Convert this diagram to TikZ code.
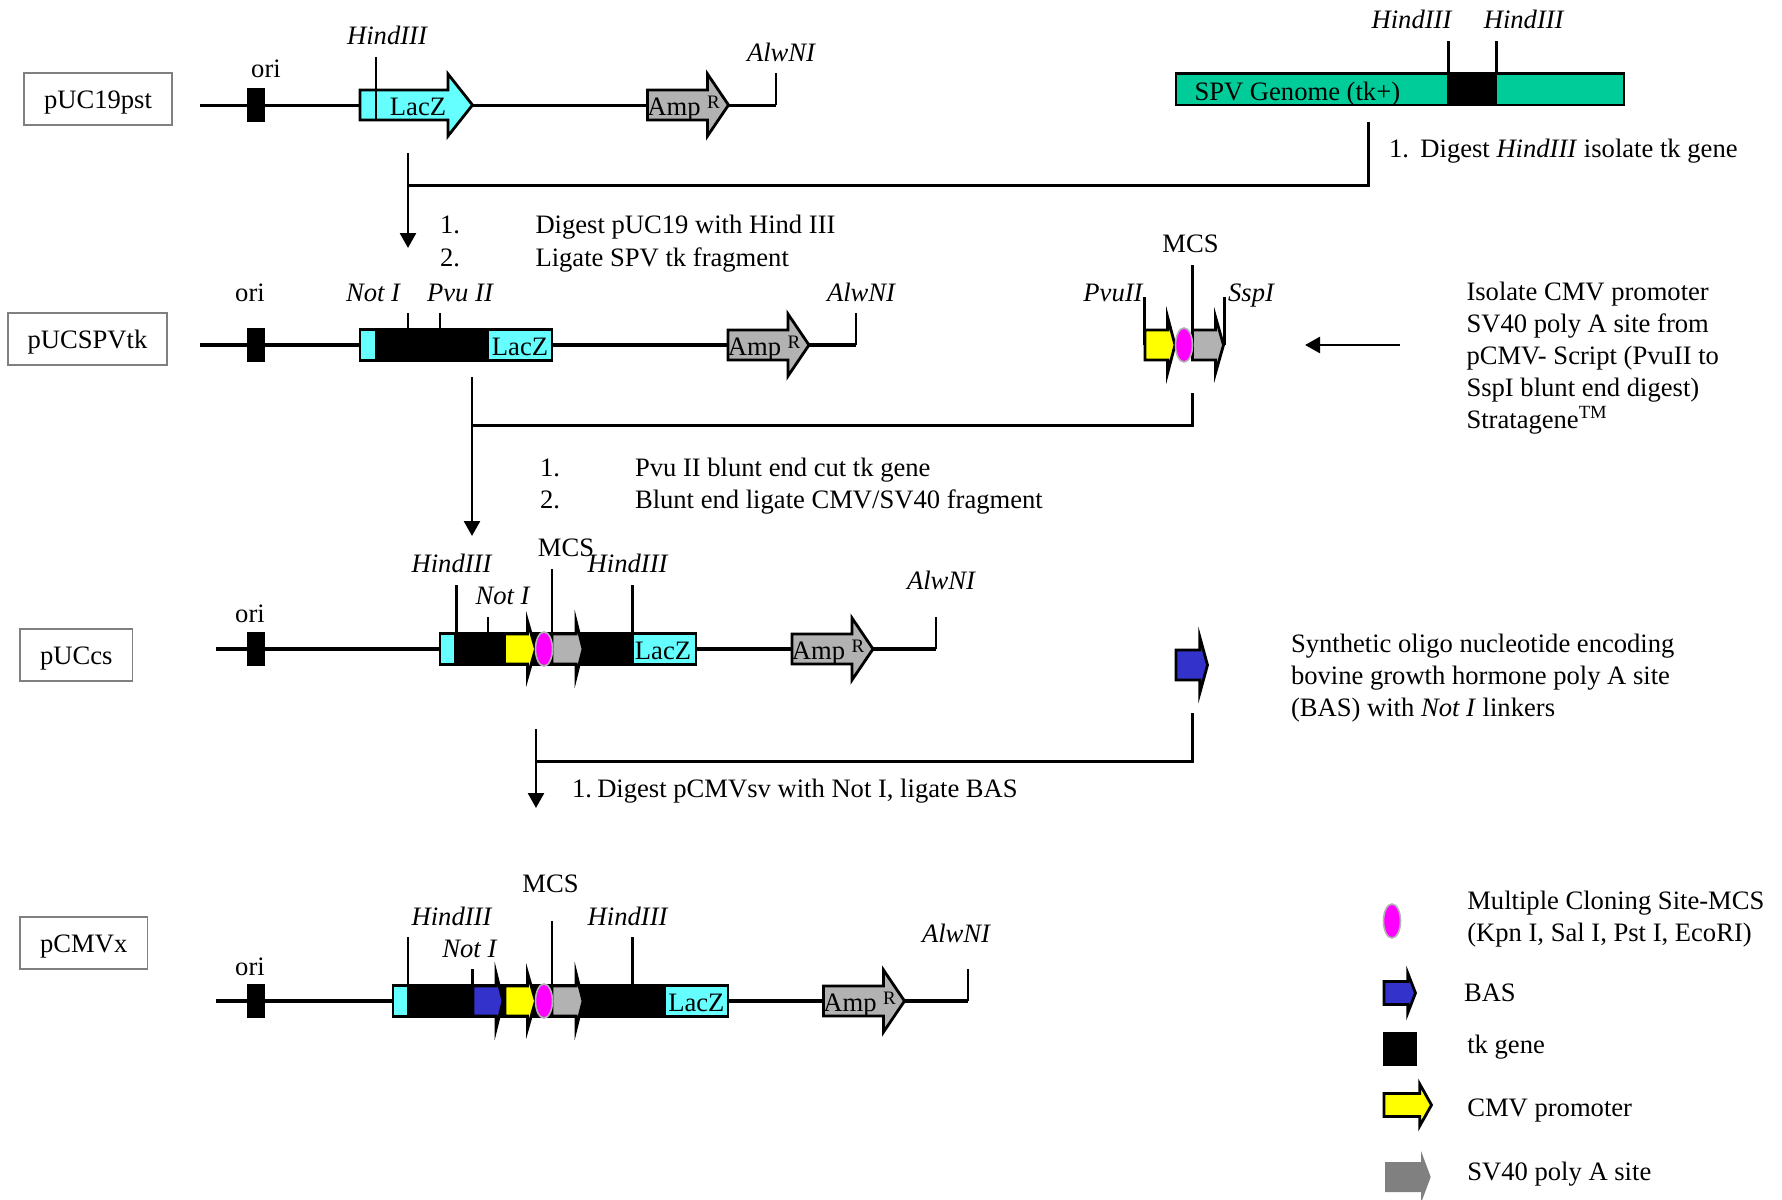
\documentclass[tikz,border=0pt]{standalone}
\usepackage{fontspec}
\setmainfont{Liberation Serif}
\usetikzlibrary{arrows.meta,shapes.geometric}
\definecolor{cCyan}{HTML}{66FFFF}
\definecolor{cGray}{HTML}{B2B2B2}
\definecolor{cDark}{HTML}{808080}
\definecolor{cYel}{HTML}{FFFF00}
\definecolor{cBlue}{HTML}{3333CC}
\definecolor{cMag}{HTML}{FF00FF}
\definecolor{cTeal}{HTML}{00CC99}
\tikzset{
  txt/.style={inner sep=0pt,outer sep=0pt,font=\fontsize{13.3}{16}\selectfont,anchor=mid,yshift=-2.25pt},
  txtl/.style={txt,anchor=mid west},
  block/.style={inner sep=0pt,outer sep=0pt,font=\fontsize{13.3}{16}\selectfont,align=left,anchor=north west,yshift=-1.25pt},
  site/.style={txt,font=\fontsize{13.3}{16}\selectfont\itshape},
  namebox/.style={draw=cDark,line width=0.6pt,inner sep=0pt,outer sep=0pt,font=\fontsize{13.3}{16}\selectfont,text height=12pt,text depth=2.6pt},
  bb/.style={line width=1.6pt,black},
  tickline/.style={line width=1.4pt,black},
  conn/.style={line width=1.5pt,black},
  connarrow/.style={line width=1.3pt,black,-{Triangle[length=7.5pt,width=8pt]}},
  gene/.style={draw=black,line width=1.4pt,miter limit=10,line join=miter},
  mcs/.style={ellipse,draw=cGray,line width=0.8pt,fill=cMag,minimum width=8.5pt,minimum height=17pt,inner sep=0pt,outer sep=0pt},
  segm/.style={draw=black,line width=1.4pt},
  tk/.style={fill=black,draw=none}
}
% arrow: style, x0, xbase, xtip, ycentre, half body, half head
\newcommand{\genearrow}[7]{\path[#1] (#2,{#5-#6}) -- (#3,{#5-#6}) -- (#3,{#5-#7}) -- (#4,#5) -- (#3,{#5+#7}) -- (#3,{#5+#6}) -- (#2,{#5+#6}) -- cycle;}
% Amp arrow with its text: name, x0, ycentre
\newcommand{\amparrow}[3]{%
  \genearrow{gene,fill=cGray}{#2}{#2+60}{#2+81}{#3}{15}{31}
  \node[txt] (#1a) at (#2+26.5,#3+1) {Amp};
  \node[txt,font=\fontsize{9.5}{10}\selectfont,anchor=center] (#1r) at (#2+66,#3-7.5) {R};}
\newcommand{\sitetick}[4]{\coordinate (#1t) at (#2,#3); \coordinate (#1b) at (#2,#4); \draw[tickline] (#1t) -- (#1b);}
\begin{document}
\begin{tikzpicture}[x=0.5pt,y=-0.5pt]
\useasboundingbox (0,0) rectangle (1782,1199);

%% row 1
\node[namebox,minimum width=74pt,minimum height=26pt] (n1) at (98,99) {pUC19pst};
\coordinate (r1l) at (200,105.3); \coordinate (r1r) at (776,105.3);
\draw[bb] (r1l) -- (r1r);
\sitetick{r1aw}{776}{73}{105.3}
\fill[tk] (247,88) rectangle (265,122);
\node[txt] (o1) at (266,68) {ori};
\genearrow{gene,fill=cCyan}{360}{448}{472.5}{105}{15}{31}
\sitetick{r1h}{376}{57}{121}
\node[site] (h1) at (387,35) {HindIII};
\node[txt] (l1) at (418,106) {LacZ};
\amparrow{a1}{647.5}{105}
\node[site] (w1) at (781,52) {AlwNI};

%% SPV genome
\draw[segm,fill=cTeal] (1176,73.5) rectangle (1624,105);
\fill[tk] (1447.4,73) rectangle (1497.3,106);
\sitetick{s1}{1448.4}{41}{73}
\sitetick{s2}{1496.8}{41}{73}
\node[site] (sh1) at (1411.5,19) {HindIII};
\node[site] (sh2) at (1523.7,19) {HindIII};
\node[txtl] (sg) at (1194.5,91) {SPV Genome (tk+)};
\node[txtl] (sd) at (1389,148) {1.};
\node[txtl] (sd2) at (1420.4,148) {Digest \textit{HindIII} isolate tk gene};

%% connector 1
\coordinate (c1a) at (1368,122); \coordinate (c1b) at (408,185);
\coordinate (c1t) at (408,153); \coordinate (c1e) at (408,248);
\draw[conn] (c1a) |- (c1b);
\draw[connarrow] (c1t) -- (c1e);
\node[txtl] (st1) at (440,224) {1.};
\node[txtl] (st2) at (535.5,224) {Digest pUC19 with Hind III};
\node[txtl] (st3) at (440,257) {2.};
\node[txtl] (st4) at (535.5,257) {Ligate SPV tk fragment};

%% row 2
\node[namebox,minimum width=79.5pt,minimum height=26pt] (n2) at (87.5,339) {pUCSPVtk};
\coordinate (r2l) at (200,345); \coordinate (r2r) at (856,345);
\draw[bb] (r2l) -- (r2r);
\sitetick{r2aw}{856}{313}{345}
\fill[tk] (247,328) rectangle (265,362);
\node[txt] (o2) at (250,292) {ori};
\sitetick{r2n}{408}{313}{329}
\sitetick{r2p}{440}{313}{329}
\draw[segm,fill=cCyan] (360,329.5) rectangle (552,360.5);
\fill[tk] (375,329) rectangle (488.5,361);
\node[txt] (l2) at (520,346) {LacZ};
\node[site] (nt2) at (373,292) {Not I};
\node[site] (pv2) at (460,292) {Pvu II};
\amparrow{a2}{728}{345}
\node[site] (w2) at (861,292) {AlwNI};

%% CMV/SV40 cassette
\sitetick{cv}{1144.6}{297}{345}
\sitetick{cs}{1224.4}{297}{345}
\sitetick{cm}{1192.5}{265}{329}
\genearrow{gene,fill=cYel}{1145}{1167.6}{1175}{345}{15}{28}
\genearrow{gene,fill=cGray}{1192.5}{1215.5}{1223.5}{345}{15}{28}
\node[mcs] (e2) at (1184,345) {};
\node[txt] (mc2) at (1190.5,243) {MCS};
\node[site] (pv3) at (1113,292) {PvuII};
\node[site] (ss3) at (1251,292) {SspI};
\coordinate (iso) at (1400,345); \coordinate (isoe) at (1305,345);
\draw[connarrow] (iso) -- (isoe);
\node[block] (isot) at (1466.5,280) {Isolate CMV promoter\\SV40 poly A site from\\pCMV- Script (PvuII to\\SspI blunt end digest)\\Stratagene\textsuperscript{TM}};

%% connector 2
\coordinate (c2a) at (1192.5,393); \coordinate (c2b) at (472,425);
\coordinate (c2t) at (472,377); \coordinate (c2e) at (472,536);
\draw[conn] (c2a) |- (c2b);
\draw[connarrow] (c2t) -- (c2e);
\node[txtl] (pt1) at (540,467) {1.};
\node[txtl] (pt2) at (635,467) {Pvu II blunt end cut tk gene};
\node[txtl] (pt3) at (540,499) {2.};
\node[txtl] (pt4) at (635,499) {Blunt end ligate CMV/SV40 fragment};

%% row 3
\node[namebox,minimum width=56.3pt,minimum height=26pt] (n3) at (76.3,655) {pUCcs};
\coordinate (r3l) at (216,649); \coordinate (r3r) at (936,649);
\draw[bb] (r3l) -- (r3r);
\sitetick{r3aw}{936}{617}{649}
\fill[tk] (247,632) rectangle (265,666);
\node[txt] (o3) at (250,613) {ori};
\sitetick{r3h}{456.6}{585}{633}
\sitetick{r3n}{488}{617}{633}
\sitetick{r3m}{552}{569}{633}
\sitetick{r3j}{632.6}{585}{633}
\draw[segm,fill=black] (440,633.5) rectangle (696,664.5);
\draw[segm,fill=cCyan] (440,633.5) rectangle (455.6,664.5);
\draw[segm,fill=cCyan] (632.6,633.5) rectangle (696,664.5);
\genearrow{gene,fill=cYel}{504.5}{527.5}{535.5}{649}{15}{28}
\genearrow{gene,fill=cGray}{552}{576}{583}{649}{15}{28}
\node[mcs] (e3) at (544,649) {};
\node[txt] (l3) at (663,650) {LacZ};
\node[site] (hh3) at (451.5,563) {HindIII};
\node[site] (nt3) at (502.5,595) {Not I};
\node[txt] (mc3) at (566,547) {MCS};
\node[site] (hi3) at (627.6,563) {HindIII};
\amparrow{a3}{792}{649}
\node[site] (w3) at (941,580) {AlwNI};

%% BAS oligo
\genearrow{gene,fill=cBlue}{1176}{1199.8}{1207.5}{665}{15}{28}
\node[block] (bast) at (1291,632) {Synthetic oligo nucleotide encoding\\bovine growth hormone poly A site\\(BAS) with \textit{Not I} linkers};

%% connector 3
\coordinate (c3a) at (1192.4,713); \coordinate (c3b) at (536,761);
\coordinate (c3t) at (536,729); \coordinate (c3e) at (536,808);
\draw[conn] (c3a) |- (c3b);
\draw[connarrow] (c3t) -- (c3e);
\node[txtl] (dg) at (572,788) {1.\hspace{0.2em}Digest pCMVsv with Not I, ligate BAS};

%% row 4
\node[namebox,minimum width=63.8pt,minimum height=26pt] (n4) at (83.8,943) {pCMVx};
\coordinate (r4l) at (216,1001); \coordinate (r4r) at (968,1001);
\draw[bb] (r4l) -- (r4r);
\sitetick{r4aw}{968}{969}{1001}
\fill[tk] (247,984) rectangle (265,1018);
\node[txt] (o4) at (250,966) {ori};
\sitetick{r4h}{408}{937}{985}
\sitetick{r4n}{472.5}{969}{985}
\sitetick{r4m}{552}{921}{985}
\sitetick{r4j}{632.6}{937}{985}
\draw[segm,fill=black] (393,985.5) rectangle (728,1016.5);
\draw[segm,fill=cCyan] (393,985.5) rectangle (408,1016.5);
\draw[segm,fill=cCyan] (665,985.5) rectangle (728,1016.5);
\genearrow{gene,fill=cBlue}{473}{496}{503}{1001}{15}{28}
\genearrow{gene,fill=cYel}{505}{527.5}{535.5}{1001}{15}{28}
\genearrow{gene,fill=cGray}{552}{576}{583}{1001}{15}{28}
\node[mcs] (e4) at (544,1001) {};
\node[txt] (l4) at (696.4,1002) {LacZ};
\node[site] (hh4) at (451.5,916) {HindIII};
\node[site] (nt4) at (469.4,948) {Not I};
\node[txt] (mc4) at (550.5,883) {MCS};
\node[site] (hi4) at (627.6,916) {HindIII};
\amparrow{a4}{823.5}{1001}
\node[site] (w4) at (956,933) {AlwNI};

%% legend
\node[mcs] (le) at (1392,921) {};
\node[block,yshift=-1pt] (let) at (1467.3,887) {Multiple Cloning Site-MCS\\(Kpn I, Sal I, Pst I, EcoRI)};
\genearrow{gene,fill=cBlue}{1384}{1407.7}{1415.5}{993}{11.5}{20}
\node[txtl] (lb) at (1464,992) {BAS};
\fill[tk] (1383,1032) rectangle (1417,1066);
\node[txtl] (lt) at (1467.3,1044) {tk gene};
\genearrow{gene,fill=cYel}{1384}{1419.7}{1431.5}{1105}{11.5}{21}
\node[txtl] (lc) at (1467.3,1107.7) {CMV promoter};
\genearrow{fill=cDark}{1385}{1421}{1430.7}{1177}{15}{26}
\node[txtl] (ls) at (1467.3,1171.7) {SV40 poly A site};
\end{tikzpicture}
\end{document}
